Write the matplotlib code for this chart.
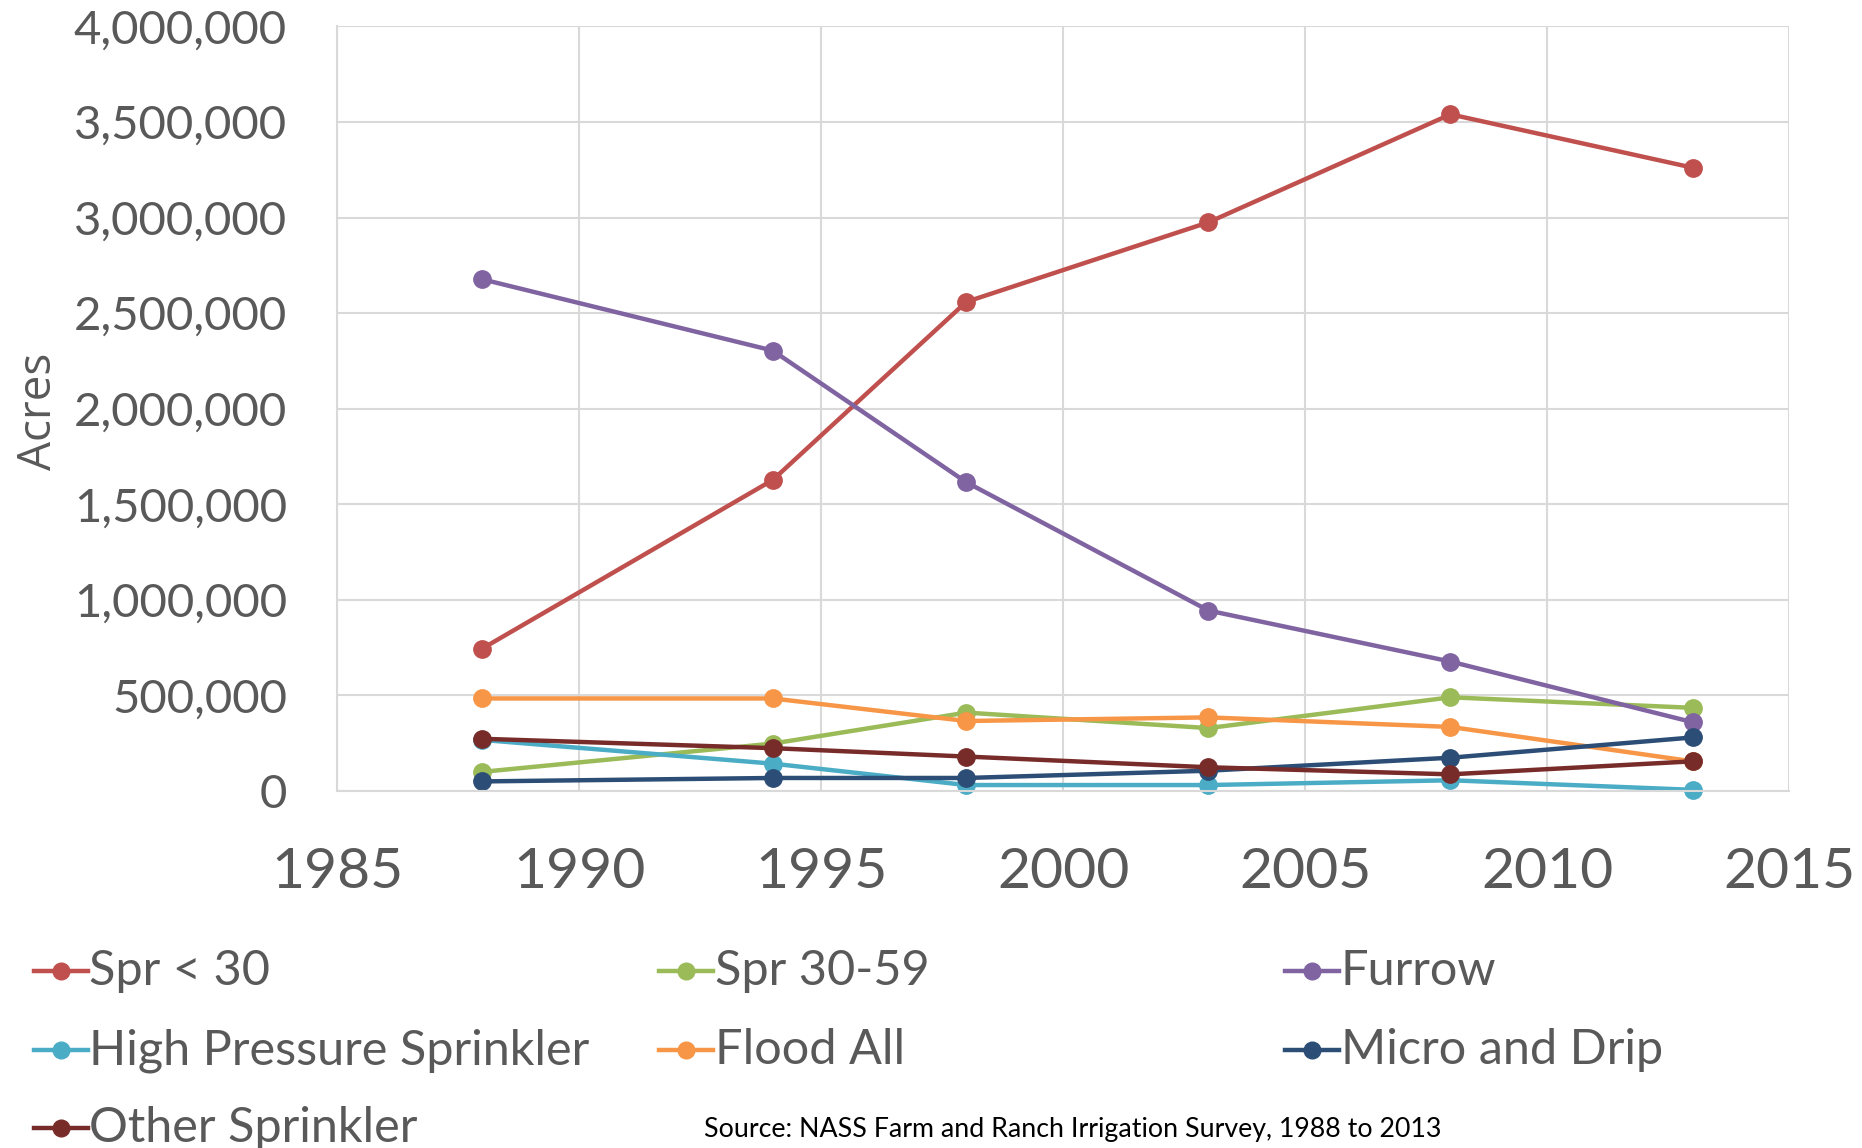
import matplotlib
matplotlib.use("Agg")
import matplotlib.pyplot as plt
from matplotlib.lines import Line2D
from matplotlib.ticker import FuncFormatter

years = [1988, 1994, 1998, 2003, 2008, 2013]
spr_lt30 = [745000, 1627000, 2559000, 2975000, 3540000, 3261000]
spr_30_59 = [100000, 248000, 410000, 329000, 490000, 435000]
furrow = [2677000, 2304000, 1615000, 944000, 677000, 360000]
high_pressure = [267000, 143000, 31000, 31000, 56000, 6000]
flood_all = [484000, 484000, 366000, 385000, 335000, 155000]
micro_drip = [50000, 68000, 68000, 106000, 174000, 280000]
other_spr = [273000, 224000, 180000, 124000, 87000, 155000]

names = ["Spr < 30", "Spr 30-59", "Furrow", "High Pressure Sprinkler",
         "Flood All", "Micro and Drip", "Other Sprinkler"]
series = [spr_lt30, spr_30_59, furrow, high_pressure, flood_all, micro_drip, other_spr]
colors = ["#C0504D", "#9BBB59", "#8064A2", "#4BACC6", "#F79646", "#2C4D75", "#772C2A"]

FONT = ["Lato", "DejaVu Sans"]
GRAY = "#595959"

fig = plt.figure(figsize=(18.62, 11.48), dpi=100)
ax = fig.add_axes([0.181, 0.311, 0.780, 0.666])

for vals, c, n in zip(series, colors, names):
    ax.plot(years, vals, color=c, lw=3.2, marker="o", ms=12.5, label=n, clip_on=False)

ax.set_xlim(1985, 2015)
ax.set_ylim(0, 4000000)
ax.set_xticks(range(1985, 2016, 5))
ax.set_yticks(range(0, 4000001, 500000))
ax.yaxis.set_major_formatter(FuncFormatter(lambda v, p: f"{int(v):,}"))
ax.grid(True, color="#D9D9D9", lw=1.5)
ax.set_axisbelow(True)
for s in ["top", "right"]:
    ax.spines[s].set_visible(False)
for s in ["left", "bottom"]:
    ax.spines[s].set_color("#D9D9D9")
    ax.spines[s].set_linewidth(1.5)
ax.tick_params(length=0)
ax.tick_params(axis="x", pad=40)
ax.tick_params(axis="y", pad=36)
for lab in ax.get_xticklabels():
    lab.set_fontfamily(FONT)
    lab.set_fontsize(41)
    lab.set_color(GRAY)
for lab in ax.get_yticklabels():
    lab.set_fontfamily(FONT)
    lab.set_fontsize(34)
    lab.set_color(GRAY)

fig.text(0.021, 0.642, "Acres", rotation=90, ha="center", va="center",
         fontsize=33, color=GRAY, family=["Open Sans", "DejaVu Sans"])

# legend, laid out row by row like the original
col_x = [0.018, 0.354, 0.690]
row_y = [0.154, 0.085, 0.017]
hl = 0.029
for i, (n, c) in enumerate(zip(names, colors)):
    x0 = col_x[i % 3]
    y0 = row_y[i // 3]
    fig.add_artist(Line2D([x0, x0 + hl], [y0, y0], color=c, lw=3.2,
                          transform=fig.transFigure))
    fig.add_artist(Line2D([x0 + hl / 2], [y0], color=c, marker="o", ms=12,
                          transform=fig.transFigure))
    fig.text(x0 + hl + 0.001, y0, n, ha="left", va="center", fontsize=35,
             color=GRAY, family=FONT)

fig.text(0.378, 0.016, "Source: NASS Farm and Ranch Irrigation Survey, 1988 to 2013",
         ha="left", va="center", fontsize=19.3, color="black", family=FONT)

fig.savefig("out.png", dpi=100)
